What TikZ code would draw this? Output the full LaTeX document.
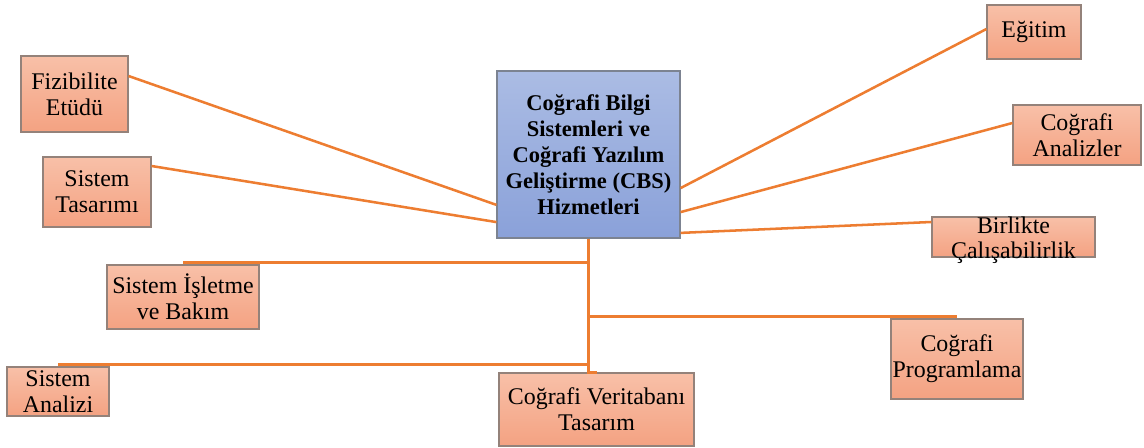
\documentclass[tikz,border=0pt]{standalone}
\usepackage{fontspec}
\setmainfont{Liberation Serif}
\usepackage{tikz}
\usetikzlibrary{positioning,calc}

\definecolor{linkorange}{HTML}{ED7D31}
\definecolor{boxtop}{HTML}{F8C0A8}
\definecolor{boxbot}{HTML}{F4A282}
\definecolor{boxline}{HTML}{94827A}
\definecolor{maintop}{HTML}{ABBCE4}
\definecolor{mainbot}{HTML}{8AA1D9}
\definecolor{mainline}{HTML}{7C8391}

\begin{document}
\begin{tikzpicture}[
    box/.style={draw=boxline, line width=0.8pt, top color=boxtop, bottom color=boxbot,
      inner sep=0pt, align=center, font=\fontsize{17}{18.5}\selectfont},
    mainbox/.style={box, draw=mainline, top color=maintop, bottom color=mainbot,
      font=\fontsize{16}{18.5}\selectfont\bfseries},
    link/.style={draw=linkorange, line width=1.8pt}
  ]
    \useasboundingbox (0,0) rectangle (28.6,11.2);

    % Center box
    \node[mainbox, minimum width=4.575cm, minimum height=4.175cm] (main) at (14.7125,7.3375)
      {Coğrafi Bilgi\\Sistemleri ve\\Coğrafi Yazılım\\Geliştirme (CBS)\\Hizmetleri};

    % Left boxes
    \node[box, minimum width=2.675cm, minimum height=1.9cm] (fiz) at (1.8625,8.85) {Fizibilite\\Etüdü};
    \node[box, minimum width=2.7cm, minimum height=1.75cm] (tas) at (2.425,6.4) {Sistem\\Tasarımı};
    \node[box, minimum width=3.8cm, minimum height=1.6cm] (isl) at (4.575,3.775) {Sistem İşletme\\ve Bakım};
    \node[box, minimum width=2.55cm, minimum height=1.225cm] (anz) at (1.45,1.4125) {Sistem\\Analizi};

    % Bottom boxes
    \node[box, minimum width=4.875cm, minimum height=1.825cm] (ver) at (14.9125,0.9625) {Coğrafi Veritabanı\\Tasarım};
    \node[box, minimum width=3.3cm, minimum height=2cm] (prog) at (23.925,2.225) {Coğrafi\\Programlama};

    % Right boxes
    \node[box, minimum width=2.35cm, minimum height=1.35cm] (egit) at (25.85,10.4) {Eğitim};
    \node[box, minimum width=3.2cm, minimum height=1.5cm] (anal) at (26.925,7.825) {Coğrafi\\Analizler};
    \node[box, minimum width=4.075cm, minimum height=1cm] (birl) at (25.3375,5.275) {};
    \node[align=center, font=\fontsize{17}{17.2}\selectfont, inner sep=0pt] (birltxt)
      at ([yshift=-0.08cm]birl.center) {Birlikte\\Çalışabilirlik};

    % Connectors left and right
    \draw[link] ([yshift=0.45cm]fiz.east) -- ([yshift=-1.26cm]main.west);
    \draw[link] ([yshift=0.65cm]tas.east) -- ([yshift=-1.69cm]main.west);
    \draw[link] ([yshift=0.075cm]egit.west) -- ([yshift=-0.84cm]main.east);
    \draw[link] ([yshift=0.3cm]anal.west) -- ([yshift=-1.44cm]main.east);
    \draw[link] ([yshift=0.375cm]birl.west) -- ([yshift=-1.96cm]main.east);

    % Connectors below
    \draw[link] (main.south) |- ([yshift=0.05cm]isl.north);
    \draw[link] (main.south) |- ([yshift=0.05cm]prog.north);
    \draw[link] (main.south) |- ([yshift=0.05cm]anz.north);
    \draw[link] (main.south) |- (ver.north);
\end{tikzpicture}
\end{document}
